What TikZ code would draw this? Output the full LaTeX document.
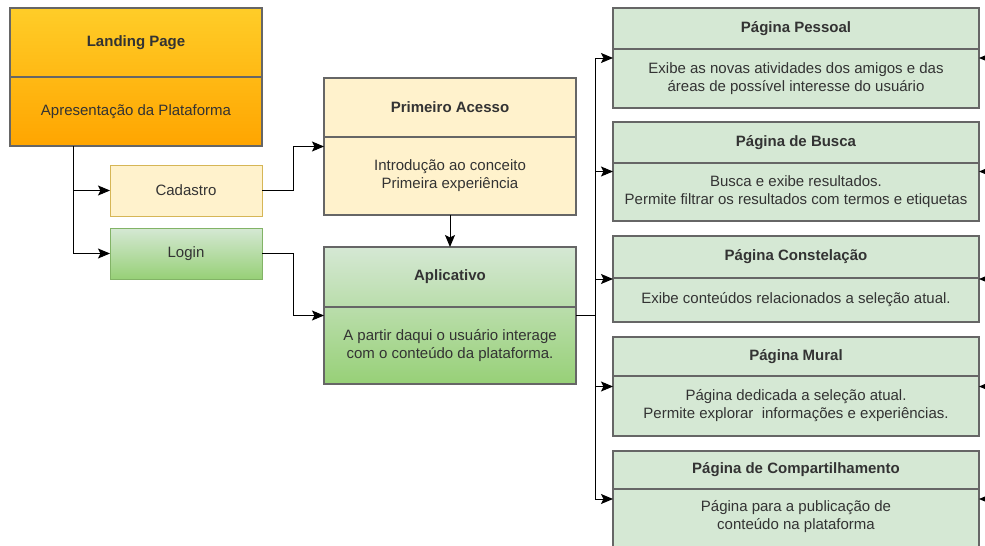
\documentclass[tikz,border=0pt]{standalone}
\usepackage{fontspec}
\setmainfont{Liberation Sans}
\usetikzlibrary{arrows.meta,calc}

\definecolor{ink}{HTML}{333333}
\definecolor{laneborder}{HTML}{666666}
\definecolor{orangetop}{HTML}{FFCD28}
\definecolor{orangebot}{HTML}{FFA500}
\definecolor{creamfill}{HTML}{FFF2CC}
\definecolor{creamline}{HTML}{D6B656}
\definecolor{greentop}{HTML}{D5E8D4}
\definecolor{greenbot}{HTML}{97D077}
\definecolor{greenline}{HTML}{82B366}

\tikzset{
  box/.style={rectangle, inner sep=0pt, outer sep=0pt, anchor=north west},
  lane/.style={box, draw=laneborder, line width=1.2pt},
  lanediv/.style={draw=laneborder, line width=1.2pt},
  orangegrad/.style={top color=orangetop, bottom color=orangebot},
  greengrad/.style={top color=greentop, bottom color=greenbot},
  title/.style={font=\fontsize{15}{18}\selectfont\bfseries, text=ink, align=center, inner sep=0pt},
  body/.style={font=\fontsize{15}{18}\selectfont, text=ink, align=center, inner sep=0pt},
  wire/.style={draw=black, line width=1pt},
  arr/.style={wire, -{Stealth[length=12pt, width=10pt, inset=2.5pt]}},
}

\begin{document}
\begin{tikzpicture}[x=1pt, y=-1pt]
\useasboundingbox[fill=white] (0,0) rectangle (985,546);

% ---- Landing page ----
\node[lane, orangegrad, minimum width=252pt, minimum height=138pt] (landing) at (10,8) {};
\draw[lanediv] (landing.west |- 0,77) -- (landing.east |- 0,77);
\node[title] (landing-t) at (136,42.5) {Landing Page};
\node[body] (landing-b) at (136,111.5) {Apresentação da Plataforma};

% ---- Cadastro / Login ----
\node[box, draw=creamline, line width=1pt, fill=creamfill, minimum width=152pt, minimum height=51pt] (cad) at (110,165) {};
\node[body] (cad-t) at (cad.center) {Cadastro};
\node[box, draw=greenline, line width=1pt, greengrad, minimum width=152pt, minimum height=51pt] (login) at (110,228) {};
\node[body] (login-t) at (login.center) {Login};

% ---- Primeiro acesso ----
\node[lane, fill=creamfill, minimum width=252pt, minimum height=137pt] (first) at (324,78) {};
\draw[lanediv] (first.west |- 0,137) -- (first.east |- 0,137);
\node[title] (first-t) at (450,107.5) {Primeiro Acesso};
\node[body] (first-b) at (450,176) {Introdução ao conceito\\Primeira experiência};

% ---- Aplicativo ----
\node[lane, greengrad, minimum width=252pt, minimum height=137pt] (app) at (324,247) {};
\draw[lanediv] (app.west |- 0,307) -- (app.east |- 0,307);
\node[title] (app-t) at (450,277) {Aplicativo};
\node[body] (app-b) at (450,345.5) {A partir daqui o usuário interage\\com o conteúdo da plataforma.};

% ---- Pages of the application ----
\node[lane, fill=greentop, minimum width=366pt, minimum height=100pt] (pessoal) at (613,8) {};
\draw[lanediv] (pessoal.west |- 0,49) -- (pessoal.east |- 0,49);
\node[title] (pessoal-t) at (796,28.5) {Página Pessoal};
\node[body] (pessoal-b) at (796,78.5) {Exibe as novas atividades dos amigos e das\\áreas de possível interesse do usuário};

\node[lane, fill=greentop, minimum width=366pt, minimum height=99pt] (busca) at (613,122) {};
\draw[lanediv] (busca.west |- 0,163) -- (busca.east |- 0,163);
\node[title] (busca-t) at (796,142.5) {Página de Busca};
\node[body] (busca-b) at (796,192) {Busca e exibe resultados.\\Permite filtrar os resultados com termos e etiquetas};

\node[lane, fill=greentop, minimum width=366pt, minimum height=86pt] (const) at (613,236) {};
\draw[lanediv] (const.west |- 0,278) -- (const.east |- 0,278);
\node[title] (const-t) at (796,257) {Página Constelação};
\node[body] (const-b) at (796,300) {Exibe conteúdos relacionados a seleção atual.};

\node[lane, fill=greentop, minimum width=366pt, minimum height=99pt] (mural) at (613,337) {};
\draw[lanediv] (mural.west |- 0,376) -- (mural.east |- 0,376);
\node[title] (mural-t) at (796,356.5) {Página Mural};
\node[body] (mural-b) at (796,406) {Página dedicada a seleção atual.\\Permite explorar\ \ informações e experiências.};

\node[lane, fill=greentop, minimum width=366pt, minimum height=96pt] (share) at (613,451) {};
\draw[lanediv] (share.west |- 0,489) -- (share.east |- 0,489);
\node[title] (share-t) at (796,470) {Página de Compartilhamento};
\node[body] (share-b) at (796,517) {Página para a publicação de\\conteúdo na plataforma};

% ---- Connectors ----
\coordinate (lp-out) at ($(landing.south west)!0.25!(landing.south east)$);
\draw[arr] (lp-out) |- (cad.west);
\draw[arr] (lp-out) |- (login.west);
\draw[arr] (cad.east) -- ++(31,0) |- (first.west);
\draw[arr] (login.east) -- ++(31,0) |- (app.west);
\draw[arr] (first.south) -- (app.north);

\coordinate (trunk) at (595,315.5);
\draw[wire] (app.east) -- (app.east -| trunk);
\draw[wire] (pessoal.west -| trunk) -- (share.west -| trunk);
\foreach \p in {pessoal,busca,const,mural,share}
  \draw[arr] (\p.west -| trunk) -- (\p.west);

% incoming links from the right margin
\coordinate (offright) at (1010,0);
\foreach \p in {pessoal,busca,const,mural,share}
  \draw[arr] (\p.east -| offright) -- (\p.east);
\end{tikzpicture}
\end{document}
